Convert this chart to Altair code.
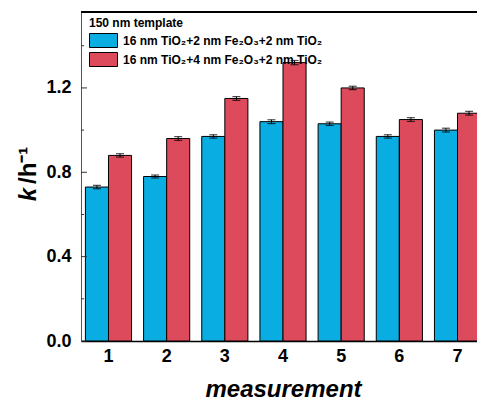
import altair as alt
import pandas as pd

measurements = ["1", "2", "3", "4", "5", "6", "7"]
series_names = ["16 nm TiO₂+2 nm Fe₂O₃+2 nm TiO₂", "16 nm TiO₂+4 nm Fe₂O₃+2 nm TiO₂"]
k_2nm = [0.73, 0.78, 0.97, 1.04, 1.03, 0.97, 1.00]
k_4nm = [0.88, 0.96, 1.15, 1.32, 1.20, 1.05, 1.08]
err_2nm = [0.008, 0.007, 0.008, 0.009, 0.008, 0.008, 0.009]
err_4nm = [0.008, 0.009, 0.009, 0.010, 0.008, 0.009, 0.009]
colors = ["#0AADE1", "#DC4A5C"]
major_ticks = [0.0, 0.4, 0.8, 1.2]
minor_ticks = [0.2, 0.6, 1.0, 1.4]

rows = []
for vals, errs, name in [(k_2nm, err_2nm, series_names[0]), (k_4nm, err_4nm, series_names[1])]:
    for m, v, e in zip(measurements, vals, errs):
        rows.append({"measurement": m, "series": name, "k": v, "lo": v - e, "hi": v + e})
df = pd.DataFrame(rows)

major_df = pd.DataFrame({"v": major_ticks})
minor_df = pd.DataFrame({"v": minor_ticks})

FONT = "Liberation Sans"
W, H = 396, 329
XR = 404  # x range extends past the visible right edge, as in the cropped original

yscale = alt.Scale(domain=[0, 1.56], nice=False, zero=True)
yaxis = alt.Axis(
    values=major_ticks, format=".1f", ticks=False, labelFont=FONT, labelFontSize=18,
    labelFontWeight="bold", labelColor="black", labelPadding=10, domainColor="#555555",
    domainWidth=1, grid=False, title=None,
)
xscale = alt.Scale(paddingInner=0.207, paddingOuter=0.076, range=[0, XR])
xaxis = alt.Axis(
    ticks=False, labelAngle=0, labelFont=FONT, labelFontSize=18, labelFontWeight="bold",
    labelColor="black", labelPadding=6, domainColor="black", domainWidth=1.5, grid=False,
    title="measurement", titleFont=FONT, titleFontSize=24, titleFontWeight="bold",
    titleFontStyle="italic", titleColor="black", titleBaseline="alphabetic", titleY=55,
)

X = alt.X("measurement:N", sort=measurements, scale=xscale, axis=xaxis)
XO = alt.XOffset("series:N", sort=series_names, scale=alt.Scale(paddingInner=0, paddingOuter=0))

bars = alt.Chart(df).mark_bar(stroke="black", strokeWidth=1).encode(
    x=X,
    xOffset=XO,
    y=alt.Y("k:Q", scale=yscale, axis=yaxis),
    fill=alt.Fill(
        "series:N", sort=series_names,
        scale=alt.Scale(domain=series_names, range=colors),
        legend=alt.Legend(
            title="150 nm template", orient="none", legendX=8, legendY=6,
            symbolType="M-1,-0.5L1,-0.5L1,0.5L-1,0.5Z", symbolSize=784,
            symbolStrokeColor="black", symbolStrokeWidth=1, symbolOpacity=1,
            clipHeight=19, rowPadding=0, padding=0, titlePadding=1, labelOffset=5,
            labelFont=FONT, labelFontSize=12, labelFontWeight="bold", labelColor="black",
            labelLimit=400, titleFont=FONT, titleFontSize=12, titleFontWeight="bold",
            titleColor="black",
        ),
    ),
)

err_rule = alt.Chart(df).mark_rule(color="black", strokeWidth=1).encode(
    x=X, xOffset=XO,
    y=alt.Y("lo:Q", scale=yscale, axis=yaxis), y2="hi:Q",
)
cap_lo = alt.Chart(df).mark_tick(color="black", size=8, thickness=1.2).encode(
    x=X, xOffset=XO, y=alt.Y("lo:Q", scale=yscale, axis=yaxis),
)
cap_hi = alt.Chart(df).mark_tick(color="black", size=8, thickness=1.2).encode(
    x=X, xOffset=XO, y=alt.Y("hi:Q", scale=yscale, axis=yaxis),
)

major_marks = alt.Chart(major_df).mark_rule(color="#333333", strokeWidth=1).encode(
    y=alt.Y("v:Q", scale=yscale, axis=yaxis), x=alt.value(0), x2=alt.value(6),
)
minor_marks = alt.Chart(minor_df).mark_rule(color="#333333", strokeWidth=1).encode(
    y=alt.Y("v:Q", scale=yscale, axis=yaxis), x=alt.value(0), x2=alt.value(3),
)

top_frame = alt.Chart(pd.DataFrame({"a": [0]})).mark_rule(color="black", strokeWidth=2).encode(
    x=alt.value(0), x2=alt.value(XR), y=alt.value(0),
)

ytitle_k = alt.Chart(pd.DataFrame({"a": [0]})).mark_text(
    text="k", angle=270, align="right", baseline="middle", font=FONT, fontSize=24,
    fontWeight="bold", fontStyle="italic", color="black",
).encode(x=alt.value(-52), y=alt.value(176))
ytitle_unit = alt.Chart(pd.DataFrame({"a": [0]})).mark_text(
    text="/h⁻¹", angle=270, align="left", baseline="middle", font=FONT, fontSize=24,
    fontWeight="bold", color="black",
).encode(x=alt.value(-52), y=alt.value(172))

chart = alt.layer(
    bars, err_rule, cap_lo, cap_hi, major_marks, minor_marks, top_frame, ytitle_k, ytitle_unit
).properties(
    width=W, height=H,
    autosize=alt.AutoSizeParams(type="none"),
    padding={"left": 73, "top": 4, "right": 0, "bottom": 61},
).configure_view(stroke=None).configure(font=FONT)

chart.save("out.html", embed_options={"renderer": "svg", "actions": False})
